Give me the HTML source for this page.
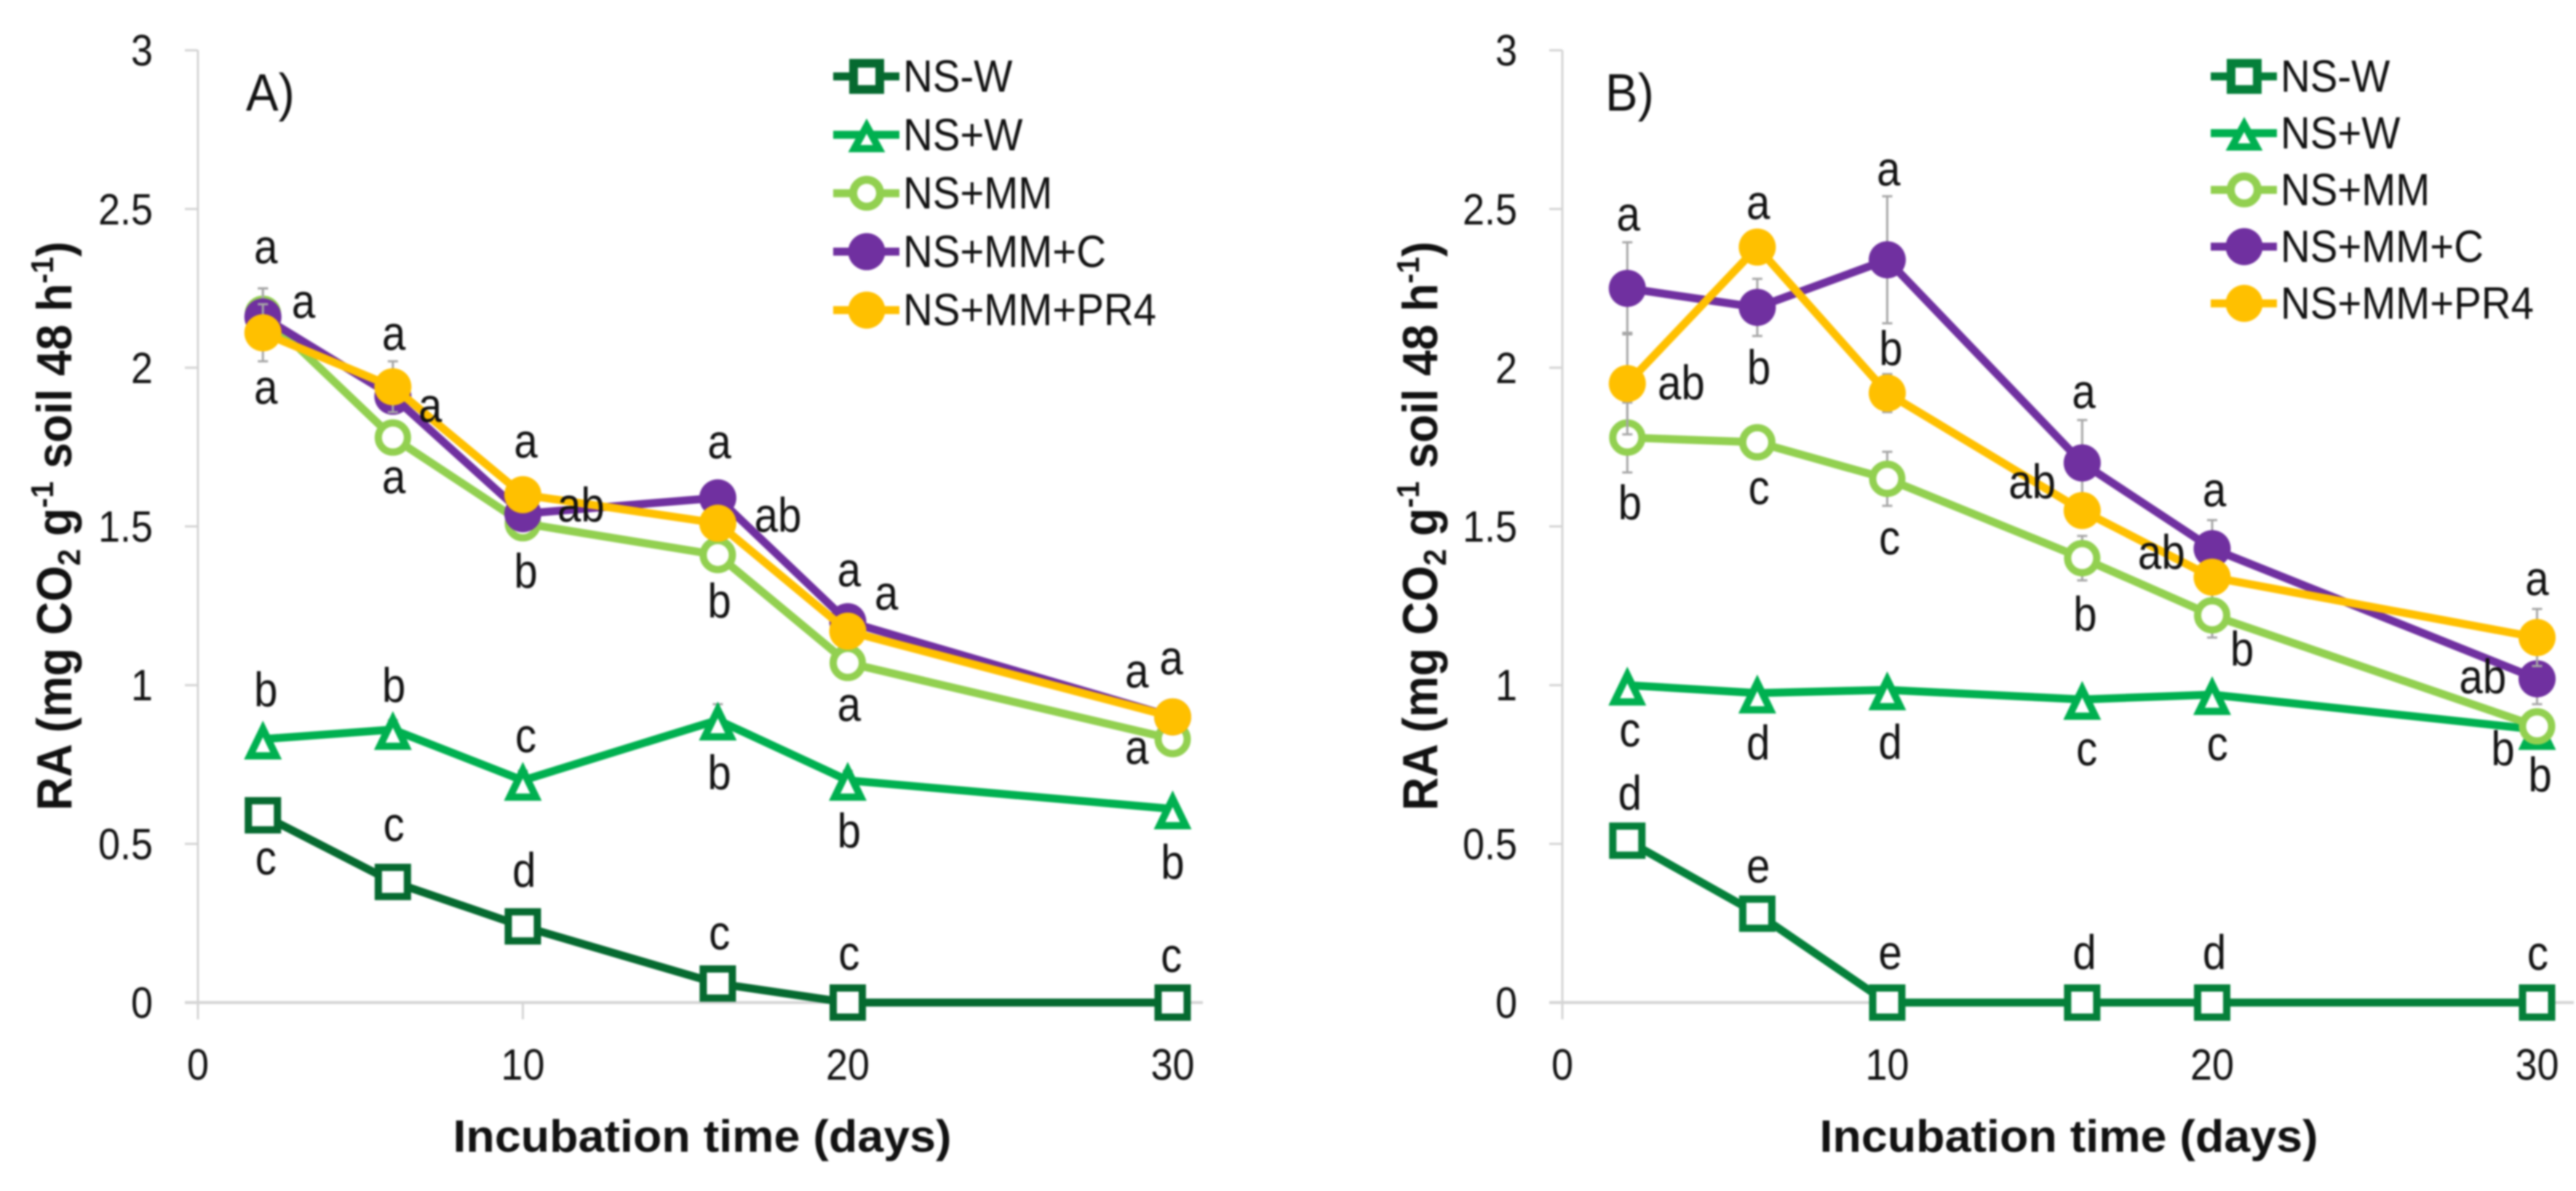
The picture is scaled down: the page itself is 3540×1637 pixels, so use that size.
<!DOCTYPE html>
<html lang="en">
<head>
<meta charset="utf-8">
<title>RA over incubation time</title>
<style>
html,body{margin:0;padding:0;background:#fff;width:3540px;height:1637px;overflow:hidden}
svg{display:block;filter:blur(1.2px)}
text{font-family:"Liberation Sans",sans-serif;fill:#111}
</style>
</head>
<body>
<svg id="chart" xmlns="http://www.w3.org/2000/svg" width="3540" height="1637" viewBox="0 0 3540 1637"></svg>
<script>
const days = [2, 6, 10, 16, 20, 30];
const seriesNames = ["NS-W", "NS+W", "NS+MM", "NS+MM+C", "NS+MM+PR4"];
const xTicks = [0, 10, 20, 30];
const yTicks = [0, 0.5, 1, 1.5, 2, 2.5, 3];

const a_nsW = [0.59, 0.38, 0.24, 0.06, 0, 0];
const a_nsPlusW = [0.83, 0.86, 0.70, 0.89, 0.70, 0.61];
const a_nsMM = [2.17, 1.78, 1.51, 1.41, 1.07, 0.83];
const a_nsMMC = [2.16, 1.91, 1.54, 1.59, 1.20, 0.90];
const a_nsMMPR4 = [2.11, 1.94, 1.60, 1.51, 1.17, 0.90];

const a_errW = [0.02, 0.02, 0.02, 0.02, 0, 0];
const a_errPlusW = [0.02, 0.03, 0.03, 0.05, 0.03, 0.02];
const a_errMM = [0.08, 0.03, 0.02, 0.03, 0.03, 0.02];
const a_errC = [0.09, 0.05, 0.03, 0.03, 0.03, 0.02];
const a_errPR4 = [0.09, 0.08, 0.03, 0.03, 0.03, 0.02];

const b_nsW = [0.51, 0.28, 0, 0, 0, 0];
const b_nsPlusW = [1.00, 0.975, 0.985, 0.955, 0.97, 0.86];
const b_nsMM = [1.78, 1.765, 1.65, 1.40, 1.22, 0.87];
const b_nsMMC = [2.25, 2.19, 2.34, 1.70, 1.43, 1.02];
const b_nsMMPR4 = [1.95, 2.38, 1.92, 1.55, 1.34, 1.15];

const b_errW = [0.02, 0.02, 0, 0, 0, 0];
const b_errPlusW = [0.02, 0.02, 0.02, 0.02, 0.02, 0.02];
const b_errMM = [0.11, 0.03, 0.085, 0.07, 0.07, 0.03];
const b_errC = [0.145, 0.09, 0.2, 0.135, 0.09, 0.08];
const b_errPR4 = [0.16, 0.04, 0.06, 0.05, 0.05, 0.09];

const a_letters = ["a","a","a","a","a","a","a","ab","b","a","ab","a","a","b","a","a","a","a","b","b","c","b","b","b","c","c","d","c","c","c"];
const a_letterDays = [2.09,3.25,2.09,6.03,7.15,6.03,10.09,11.79,10.09,16.05,17.85,20.04,21.19,16.05,20.04,28.9,29.96,28.9,2.09,6.03,10.09,16.05,20.04,30,2.09,6.03,10.04,16.05,20.04,29.96];
const a_letterVals = [2.329,2.157,1.886,2.056,1.829,1.604,1.717,1.515,1.306,1.714,1.483,1.311,1.238,1.212,0.887,0.992,1.034,0.752,0.933,0.947,0.788,0.672,0.488,0.39,0.403,0.509,0.364,0.167,0.103,0.096];

const b_letters = ["a","a","a","b","b","ab","b","c","c","a","ab","a","ab","a","b","b","ab","b","b","c","d","d","c","c","d","e","e","d","d","c"];
const b_letterDays = [2.03,6.03,10.04,10.11,6.05,3.66,2.08,6.05,10.07,16.05,14.46,20.07,18.44,30,16.09,20.92,28.33,28.95,30.09,2.08,6.03,10.09,16.14,20.16,2.08,6.03,10.09,16.07,20.07,30.02];
const b_letterVals = [2.432,2.468,2.574,2.008,1.948,1.9,1.522,1.57,1.412,1.873,1.588,1.563,1.366,1.284,1.171,1.061,0.974,0.747,0.665,0.807,0.766,0.768,0.747,0.763,0.607,0.378,0.105,0.105,0.105,0.103];

const svg = document.getElementById('chart');
const NS = 'http://www.w3.org/2000/svg';
const seriesStyles = ['square', 'triangle', 'circle', 'disc', 'disc'];
const Y0 = 1378, PX_PER_UNIT = 436.3, PX_PER_DAY = 44.65;

function make(tag, attrs, parent) {
  const el = document.createElementNS(NS, tag);
  for (const k in attrs) el.setAttribute(k, attrs[k]);
  parent.appendChild(el);
  return el;
}

function drawMarker(group, kind, cx, cy, color, isLegend) {
  if (kind === 'square') {
    const half = isLegend ? 18 : 20;
    const sw = isLegend ? 12 : 10;
    make('rect', {x: cx - half, y: cy - half, width: half * 2, height: half * 2, fill: '#fff', stroke: color, 'stroke-width': sw}, group);
  } else if (kind === 'triangle') {
    const top = isLegend ? 12 : 14;
    const bottom = isLegend ? 19 : 23;
    const halfW = isLegend ? 17 : 18;
    make('polygon', {points: (cx) + ',' + (cy - top) + ' ' + (cx + halfW) + ',' + (cy + bottom) + ' ' + (cx - halfW) + ',' + (cy + bottom), fill: '#fff', stroke: color, 'stroke-width': 10}, group);
  } else if (kind === 'circle') {
    const r = isLegend ? 18.5 : 20;
    const sw = isLegend ? 11 : 10;
    make('circle', {cx: cx, cy: cy, r: r, fill: '#fff', stroke: color, 'stroke-width': sw}, group);
  } else {
    make('circle', {cx: cx, cy: cy, r: 25.5, fill: color}, group);
  }
}

function drawPanel(cfg) {
  const g = make('g', {}, svg);
  
  
  const x = d => cfg.x0 + d * PX_PER_DAY;
  const y = v => Y0 - v * PX_PER_UNIT;

  const axisY = make('line', {x1: x(0), x2: x(0), y1: y(3), y2: Y0 + 23, stroke: '#d4d4d4', 'stroke-width': 3}, g);
  
  
  const axisX = make('line', {x1: x(0) - 18, x2: cfg.xEnd, y1: Y0, y2: Y0, stroke: '#d4d4d4', 'stroke-width': 4}, g);
  
  

  yTicks.forEach(v => {
    const tick = make('line', {x1: x(0) - 18, x2: x(0), y1: y(v), y2: y(v), stroke: '#d4d4d4', 'stroke-width': 3}, g);
    
    
    const label = make('text', {'text-anchor': 'end', 'font-size': 60, transform: 'translate(' + (x(0) - 62) + ',' + (y(v) + 21) + ') scale(0.9,1)'}, g);
    label.textContent = String(v);
    
    
  });
  xTicks.forEach(d => {
    const tick = make('line', {x1: x(d), x2: x(d), y1: Y0, y2: Y0 + 23, stroke: '#d4d4d4', 'stroke-width': 3}, g);
    
    
    const label = make('text', {'text-anchor': 'middle', 'font-size': 60, transform: 'translate(' + x(d) + ',1484) scale(0.9,1)'}, g);
    label.textContent = String(d);
    
    
  });

  cfg.values.forEach((vals, s) => {
    const sg = make('g', {}, g);
    
    
    days.forEach((d, i) => {
      const e = cfg.errors[s][i];
      if (e <= 0) return;
      const bar = make('path', {d: 'M' + x(d) + ' ' + y(vals[i] - e) + 'V' + y(vals[i] + e) + 'M' + (x(d) - 7) + ' ' + y(vals[i] - e) + 'h14M' + (x(d) - 7) + ' ' + y(vals[i] + e) + 'h14', stroke: '#a6a6a6', 'stroke-width': 3, fill: 'none'}, sg);
      
      
    });
    const line = make('polyline', {points: days.map((d, i) => x(d) + ',' + y(vals[i])).join(' '), fill: 'none', stroke: cfg.colors[s], 'stroke-width': 11, 'stroke-linejoin': 'round'}, sg);
    
    
    days.forEach((d, i) => {
      const m = make('g', {}, sg);
      
      
      drawMarker(m, seriesStyles[s], x(d), y(vals[i]), cfg.colors[s], false);
    });
  });

  cfg.letters.forEach((t, i) => {
    const label = make('text', {'text-anchor': 'middle', 'font-size': 67, transform: 'translate(' + x(cfg.letterDays[i]) + ',' + y(cfg.letterVals[i]) + ') scale(0.87,1)'}, g);
    label.textContent = t;
    
    
  });

  const panelLabel = make('text', {'font-size': 72, transform: 'translate(' + cfg.labelX + ',152) scale(0.93,1)'}, g);
  panelLabel.textContent = cfg.label;
  
  

  const xTitle = make('text', {'text-anchor': 'middle', 'font-size': 62, 'font-weight': 'bold', x: cfg.xTitleX, y: 1583, textLength: 685, lengthAdjust: 'spacingAndGlyphs'}, g);
  xTitle.textContent = 'Incubation time (days)';
  
  

  const yTitle = make('text', {'text-anchor': 'middle', 'font-size': 68, 'font-weight': 'bold', transform: 'translate(' + cfg.yTitleX + ',723) rotate(-90) scale(0.935,1)'}, g);
  
  
  make('tspan', {}, yTitle).textContent = 'RA (mg CO';
  make('tspan', {'font-size': 44, dy: 12}, yTitle).textContent = '2';
  make('tspan', {dy: -12}, yTitle).textContent = ' g';
  make('tspan', {'font-size': 44, dy: -25}, yTitle).textContent = '-1';
  make('tspan', {dy: 25}, yTitle).textContent = ' soil 48 h';
  make('tspan', {'font-size': 44, dy: -25}, yTitle).textContent = '-1';
  make('tspan', {dy: 25}, yTitle).textContent = ')';

  seriesNames.forEach((n, s) => {
    const lg = make('g', {}, g);
    
    
    const ly = cfg.legendY + s * cfg.legendStep;
    make('line', {x1: cfg.legendX - 46, x2: cfg.legendX + 45, y1: ly, y2: ly, stroke: cfg.colors[s], 'stroke-width': 11}, lg);
    drawMarker(lg, seriesStyles[s], cfg.legendX, ly, cfg.colors[s], true);
    const lt = make('text', {'font-size': 62, transform: 'translate(' + (cfg.legendX + 50) + ',' + (ly + 21) + ') scale(0.91,1)'}, lg);
    lt.textContent = n;
  });
}

drawPanel({
  name: 'panel-a', x0: 272, xEnd: 1653, label: 'A)', labelX: 338, xTitleX: 965, yTitleX: 98,
  values: [a_nsW, a_nsPlusW, a_nsMM, a_nsMMC, a_nsMMPR4],
  errors: [a_errW, a_errPlusW, a_errMM, a_errC, a_errPR4],
  colors: ['#066a30', '#00b050', '#92d050', '#7030a0', '#ffc000'],
  letters: a_letters, letterDays: a_letterDays, letterVals: a_letterVals,
  legendX: 1191, legendY: 105, legendStep: 80.3
});
drawPanel({
  name: 'panel-b', x0: 2147, xEnd: 3537, label: 'B)', labelX: 2206, xTitleX: 2843, yTitleX: 1975,
  values: [b_nsW, b_nsPlusW, b_nsMM, b_nsMMC, b_nsMMPR4],
  errors: [b_errW, b_errPlusW, b_errMM, b_errC, b_errPR4],
  colors: ['#05803a', '#00b050', '#92d050', '#7030a0', '#ffc000'],
  letters: b_letters, letterDays: b_letterDays, letterVals: b_letterVals,
  legendX: 3084, legendY: 105, legendStep: 78
});
</script>
</body>
</html>
